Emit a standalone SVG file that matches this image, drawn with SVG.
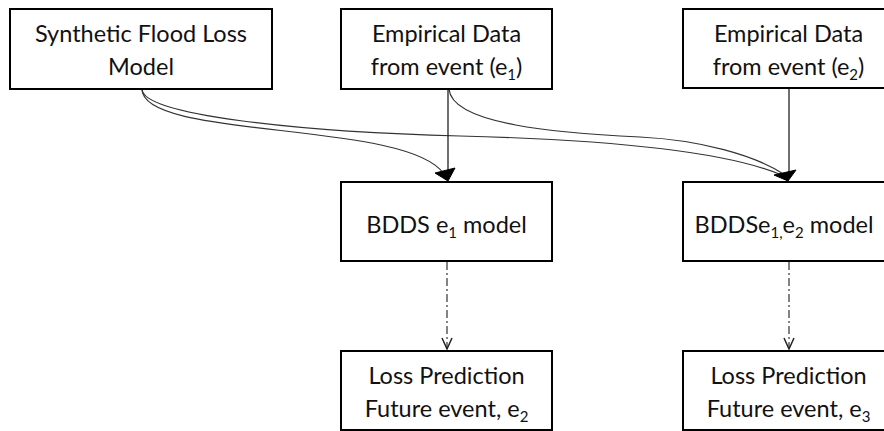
<svg xmlns="http://www.w3.org/2000/svg" width="884" height="431" viewBox="0 0 884 431">
<style>
  .box { fill: #ffffff; stroke: #000000; stroke-width: 2; }
  .t { font-family: Lato, "Liberation Sans", sans-serif; font-size: 23.5px; fill: #111111; text-anchor: middle; }
  .sub { font-size: 15px; }
  .solid { fill: none; stroke: #222222; stroke-width: 1.3; }
  .curve { fill: none; stroke: #333333; stroke-width: 1.2; }
  .dd { fill: none; stroke: #333333; stroke-width: 1.2; stroke-dasharray: 8 3 2 3; }
  .ah { fill: #000000; stroke: #000000; stroke-width: 1; stroke-linejoin: round; }
  .chev { fill: none; stroke: #222222; stroke-width: 1.5; }
</style>
<rect width="884" height="431" fill="#ffffff"/>

<g id="connectors">
  <!-- Synthetic -> BDDS e1 -->
  <path class="curve" d="M142,89 C142,140 408,120 444,174"/>
  <!-- Synthetic -> BDDS e1,e2 -->
  <path class="curve" d="M142,89 C142,115 300,132 460,136 C600,139.5 725,150 784,176"/>
  <!-- Empirical e1 -> BDDS e1,e2 -->
  <path class="curve" d="M449,89 C452,125 560,133 640,137 C700,140 755,155 785,175"/>
  <!-- Empirical e1 -> BDDS e1 -->
  <line class="solid" x1="448" y1="89" x2="448" y2="176"/>
  <!-- Empirical e2 -> BDDS e1,e2 -->
  <line class="solid" x1="789" y1="88" x2="789" y2="176"/>
  <polygon class="ah" points="435,173 455,168 448,181"/>
  <polygon class="ah" points="774,175 796,170 788,181"/>
  <!-- dash-dot to predictions -->
  <line class="dd" x1="447" y1="262" x2="447" y2="348"/>
  <polyline class="chev" points="442,338 447,349 452,338"/>
  <line class="dd" x1="789" y1="262" x2="789" y2="348"/>
  <polyline class="chev" points="784,338 789,349 794,338"/>
</g>

<g id="synthetic">
  <rect class="box" x="10" y="9" width="262" height="80"/>
  <text class="t" x="141" y="42">Synthetic Flood Loss</text>
  <text class="t" x="141" y="75">Model</text>
</g>

<g id="empirical-e1">
  <rect class="box" x="341" y="9" width="211" height="80"/>
  <text class="t" x="446.5" y="42">Empirical Data</text>
  <text class="t" x="446.5" y="75">from event (e<tspan class="sub" dy="5">1</tspan><tspan dy="-5">)</tspan></text>
</g>

<g id="empirical-e2">
  <rect class="box" x="683" y="9" width="211" height="79"/>
  <text class="t" x="788.5" y="42">Empirical Data</text>
  <text class="t" x="788.5" y="75">from event (e<tspan class="sub" dy="5">2</tspan><tspan dy="-5">)</tspan></text>
</g>

<g id="bdds-e1">
  <rect class="box" x="341" y="182" width="211" height="79"/>
  <text class="t" x="446.5" y="233">BDDS e<tspan class="sub" dy="5">1</tspan><tspan dy="-5"> model</tspan></text>
</g>

<g id="bdds-e1e2">
  <rect class="box" x="683" y="182" width="211" height="79"/>
  <text class="t" x="784" y="233">BDDSe<tspan class="sub" dy="5">1,</tspan><tspan dy="-5">e</tspan><tspan class="sub" dy="5">2</tspan><tspan dy="-5"> model</tspan></text>
</g>

<g id="prediction-e2">
  <rect class="box" x="341" y="351" width="211" height="79"/>
  <text class="t" x="446.5" y="384">Loss Prediction</text>
  <text class="t" x="446.5" y="417">Future event, e<tspan class="sub" dy="5">2</tspan></text>
</g>

<g id="prediction-e3">
  <rect class="box" x="683" y="351" width="211" height="79"/>
  <text class="t" x="788.5" y="384">Loss Prediction</text>
  <text class="t" x="788.5" y="417">Future event, e<tspan class="sub" dy="5">3</tspan></text>
</g>
</svg>
